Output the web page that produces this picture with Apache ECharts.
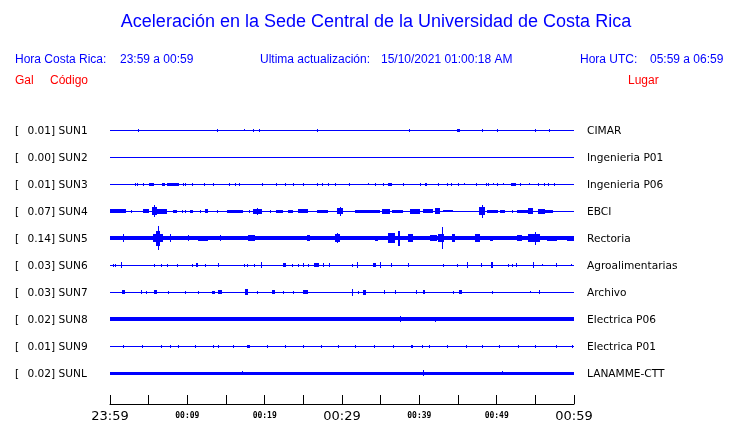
<!DOCTYPE html>
<html><head><meta charset="utf-8">
<script src="https://cdn.jsdelivr.net/npm/echarts@6/dist/echarts.min.js"></script>
<style>html,body{margin:0;padding:0;background:#fff}#c{width:740px;height:423px}</style>
</head><body><div id="c"></div>
<script>
// ---- data ----
const stations = ['SUN1','SUN2','SUN3','SUN4','SUN5','SUN6','SUN7','SUN8','SUN9','SUNL'];
const maxGal = ['0.01','0.00','0.01','0.07','0.14','0.03','0.03','0.02','0.01','0.02'];
const places = ['CIMAR','Ingenieria P01','Ingenieria P06','EBCI','Rectoria','Agroalimentarias','Archivo','Electrica P06','Electrica P01','LANAMME-CTT'];
const tickLabels = ['23:59','','00:09','','00:19','','00:29','','00:39','','00:49','','00:59'];
const bigTicks = ['23:59','00:29','00:59'];
// background noise half-amplitude (Gal) of each trace
const baseAmp = [0.004,0.004,0.004,0.006,0.022,0.004,0.004,0.021,0.004,0.02];
// bursts: [start minute, end minute, half-amplitude Gal]
const sun1 = [[3.6,3.6,.02],[13.8,13.8,.02],[17.3,17.3,.012],[18.5,18.5,.02],[19.3,19.3,.02],[26.8,26.8,.015],[38.7,38.7,.02],[44.9,45.2,.018],[48.1,48.1,.018],[50.1,50.1,.015],[55.0,55.0,.02],[56.8,56.8,.015]];
const sun2 = [];
const sun3 = [[3.23,3.23,.015],[3.53,3.53,.015],[4.23,4.23,.015],[5.04,5.69,.018],[6.69,7.11,.015],[7.33,8.96,.018],[9.4,9.4,.015],[9.74,9.74,.015],[10.56,10.56,.015],[12.16,12.16,.015],[13.28,13.28,.015],[15.35,15.35,.015],[16.16,16.16,.015],[16.72,16.72,.015],[19.62,19.62,.015],[21.47,21.47,.015],[22.63,22.63,.015],[23.7,23.7,.015],[25.0,25.0,.015],[26.81,26.81,.015],[27.45,27.45,.015],[28.15,28.15,.015],[29.09,29.09,.015],[30.94,30.94,.015],[33.32,33.32,.012],[34.27,34.27,.015],[35.26,35.26,.015],[35.91,36.43,.018],[37.85,37.85,.015],[40.09,40.09,.015],[40.73,41.03,.018],[42.41,42.41,.015],[43.54,43.54,.015],[44.09,44.09,.015],[45.04,45.04,.015],[45.78,45.78,.012],[47.33,47.33,.015],[48.62,48.62,.015],[48.92,48.92,.015],[49.56,49.56,.012],[50.05,50.05,.015],[50.86,50.86,.012],[51.81,52.5,.018],[53.02,53.02,.015],[54.22,54.22,.012],[55.38,55.38,.015],[56.16,56.16,.015],[56.68,56.68,.015],[57.41,57.41,.015]];
const sun4 = [[0,2.07,.022],[2.68,2.68,.018],[4.23,5.08,.022],[5.39,6.04,.045],[5.69,5.69,.072],[6.04,7.33,.028],[8.19,8.7,.018],[9.27,9.27,.02],[9.7,9.7,.02],[10.34,10.73,.018],[11.64,11.64,.018],[12.28,12.71,.022],[13.8,13.8,.02],[15.09,16.81,.015],[16.81,17.16,.018],[18.01,18.01,.015],[18.49,19.62,.028],[19.0,19.0,.042],[20.69,20.69,.015],[21.47,22.37,.016],[23.02,23.66,.016],[24.31,25.6,.022],[26.77,28.19,.018],[29.31,30.17,.038],[29.74,29.74,.052],[31.68,34.91,.018],[35.13,36.21,.032],[36.43,37.93,.018],[38.79,40.09,.028],[40.43,41.8,.022],[42.03,42.67,.038],[43.1,44.39,.014],[47.75,48.49,.045],[48.1,48.1,.075],[48.71,50.21,.018],[50.43,51.08,.018],[51.94,51.94,.015],[52.59,54.09,.018],[54.09,54.73,.038],[55.38,56.25,.028],[56.25,57.24,.018]];
const sun5 = [[1.72,1.72,.045],[5.6,6.89,.05],[5.95,6.47,.09],[6.25,6.25,.14],[7.76,7.76,.045],[10.13,10.13,.035],[11.38,12.67,.03],[14.22,14.22,.035],[17.88,18.75,.035],[25.43,25.86,.035],[29.09,29.74,.05],[29.35,29.35,.06],[34.27,34.65,.028],[35.99,36.85,.06],[37.28,37.5,.09],[38.57,39.14,.045],[41.38,42.25,.035],[42.45,43.19,.05],[42.89,42.89,.13],[44.19,44.61,.045],[47.2,47.84,.05],[49.14,49.56,.03],[52.59,53.24,.035],[54.09,55.6,.045],[54.96,54.96,.075],[56.47,57.76,.028],[59.06,60,.028]];
const sun6 = [[0.35,0.35,.018],[0.65,0.65,.018],[1.38,1.38,.035],[5.69,5.69,.018],[6.56,6.56,.015],[7.33,7.33,.015],[8.62,8.62,.015],[10.56,10.56,.018],[11.12,11.42,.025],[12.28,12.28,.018],[14.0,14.0,.025],[17.33,17.33,.015],[17.68,17.68,.018],[18.62,18.62,.015],[19.49,19.49,.035],[22.41,22.76,.025],[23.5,23.5,.015],[24.35,24.35,.015],[25.0,25.0,.025],[25.64,25.64,.015],[26.38,27.07,.025],[27.5,27.5,.025],[28.36,28.36,.022],[31.25,31.25,.015],[31.98,31.98,.035],[33.97,34.4,.025],[34.91,34.91,.035],[36.3,36.3,.022],[38.5,38.5,.022],[43.1,43.1,.015],[44.91,44.91,.015],[46.12,46.12,.035],[47.94,47.94,.022],[49.23,49.56,.035],[51.5,51.5,.015],[51.94,51.94,.015],[52.46,52.46,.022],[54.74,54.74,.035],[55.9,55.9,.012],[57.67,57.67,.022],[59.57,59.57,.012]];
const sun7 = [[1.49,1.94,.025],[4.01,4.01,.025],[4.66,4.66,.018],[5.69,6.04,.025],[7.54,7.54,.018],[9.7,9.7,.018],[11.42,11.42,.015],[13.15,13.58,.018],[14.0,14.44,.025],[17.46,17.88,.035],[18.97,18.97,.015],[20.91,21.34,.025],[22.32,22.32,.018],[23.62,23.62,.018],[25.0,25.64,.025],[31.25,31.25,.04],[32.11,32.11,.018],[32.75,33.1,.03],[35.43,35.43,.022],[36.85,36.85,.022],[39.57,39.57,.022],[40.43,40.73,.025],[44.39,44.39,.015],[45.17,45.47,.025],[49.36,49.36,.015],[54.31,54.31,.012],[55.51,55.51,.022]];
const sun8 = [[10.99,10.99,.025],[37.54,37.54,.035],[42.03,42.03,.028]];
const sun9 = [[1.72,1.72,.015],[4.1,4.31,.018],[6.56,6.56,.015],[7.76,7.76,.015],[8.83,8.83,.018],[10.99,10.99,.015],[13.28,13.28,.015],[14.0,14.0,.015],[15.94,15.94,.015],[17.75,18.1,.018],[20.26,20.26,.015],[22.63,22.63,.015],[24.92,24.92,.015],[27.32,27.32,.015],[29.44,29.44,.015],[31.68,31.68,.015],[34.18,34.18,.015],[36.56,36.56,.015],[38.87,39.13,.018],[40.39,40.39,.015],[41.29,41.29,.015],[43.62,43.62,.015],[46.03,46.03,.015],[48.06,48.27,.015],[50.34,50.34,.015],[52.8,52.8,.015],[54.96,54.96,.015],[57.67,57.67,.015],[59.7,59.7,.015]];
const sunL = [[17.03,17.03,.022],[40.43,40.43,.035],[50.65,50.65,.025]];
const traces = [sun1,sun2,sun3,sun4,sun5,sun6,sun7,sun8,sun9,sunL];

// ---- layout ----
const ROW_GAP = 0.32; // Gal between trace centres
const N = stations.length;
const rectData = [];
traces.forEach((ev, i) => {
  const c = i * ROW_GAP;
  rectData.push([0, 60, c, baseAmp[i]]);
  ev.forEach(e => rectData.push([e[0], e[1], c, e[2]]));
});

const chart = echarts.init(document.getElementById('c'), null, {renderer: 'canvas'});
const BLUE = '#0000ff', RED = '#ff0000';
const hdr = {fontFamily: 'Liberation Sans', fontSize: 12, fill: BLUE};
function txt(x, y, s, style, align) {
  return {type: 'text', x: x, y: y, style: Object.assign({text: s, verticalAlign: 'middle', align: align || 'left'}, style)};
}
const option = {
  animation: false,
  backgroundColor: '#fff',
  grid: [
    {left: 110, width: 464, top: 116.5, height: 270},
    {left: 110, width: 464, top: 300, height: 109}
  ],
  xAxis: [
    {gridIndex: 0, type: 'value', min: 0, max: 60, show: false},
    {gridIndex: 1, type: 'value', min: 0, max: 60, interval: 5,
      axisLine: {show: true, lineStyle: {color: '#000', width: 1}},
      axisTick: {show: true, inside: true, length: 9, lineStyle: {color: '#000'}},
      splitLine: {show: false},
      axisLabel: {show: true, margin: 5, showMinLabel: true, showMaxLabel: true,
        formatter: v => { const s = tickLabels[Math.round(v / 5)]; if (!s) return ''; return bigTicks.includes(s) ? '{b|' + s + '}' : '{s|' + s + '}'; },
        rich: {
          b: {fontFamily: 'DejaVu Sans', fontSize: 13, color: '#000', lineHeight: 15},
          s: {fontFamily: 'DejaVu Sans Mono', fontSize: 8, fontWeight: 'bold', color: '#000', lineHeight: 13}
        }}
    }
  ],
  yAxis: [
    {gridIndex: 0, type: 'value', min: -ROW_GAP / 2, max: ROW_GAP * (N - 0.5), inverse: true, show: false},
    {gridIndex: 1, type: 'value', show: false}
  ],
  series: [{
    type: 'custom', xAxisIndex: 0, yAxisIndex: 0, clip: false,
    data: rectData,
    renderItem: (params, api) => {
      const t0 = api.value(0), t1 = api.value(1), c = api.value(2), a = api.value(3);
      const p0 = api.coord([t0, c - a]);
      const p1 = api.coord([t1, c + a]);
      const x0 = Math.round(p0[0]);
      const w = Math.max(1, Math.round(p1[0]) - x0);
      const h = Math.max(1, Math.round(Math.abs(p1[1] - p0[1])));
      const cy = (p0[1] + p1[1]) / 2;
      const y0 = Math.round(cy - h / 2);
      return {type: 'rect', shape: {x: x0, y: y0, width: w, height: h}, style: {fill: BLUE}};
    }
  }]
};
chart.setOption(option);

const g = [
  txt(376, 22, 'Aceleración en la Sede Central de la Universidad de Costa Rica', {fontFamily: 'Liberation Sans', fontSize: 18, fill: BLUE}, 'center'),
  txt(15, 60, 'Hora Costa Rica:', hdr),
  txt(120, 60, '23:59 a 00:59', hdr),
  txt(260, 60, 'Ultima actualización:', hdr),
  txt(381, 60, '15/10/2021 01:00:18 AM', hdr),
  txt(580, 60, 'Hora UTC:', hdr),
  txt(650, 60, '05:59 a 06:59', hdr),
  txt(15, 81, 'Gal', Object.assign({}, hdr, {fill: RED})),
  txt(50, 81, 'Código', Object.assign({}, hdr, {fill: RED})),
  txt(628, 81, 'Lugar', Object.assign({}, hdr, {fill: RED}))
];
const lbl = {fontFamily: 'DejaVu Sans', fontSize: 10.6, fill: '#000'};
for (let i = 0; i < N; i++) {
  const y = chart.convertToPixel({xAxisIndex: 0, yAxisIndex: 0}, [0, i * ROW_GAP])[1] + 1;
  g.push(txt(15, y, '[', lbl));
  g.push(txt(27.5, y, maxGal[i] + '] ' + stations[i], lbl));
  g.push(txt(587, y, places[i], lbl));
}
chart.setOption({graphic: g});
</script></body></html>
